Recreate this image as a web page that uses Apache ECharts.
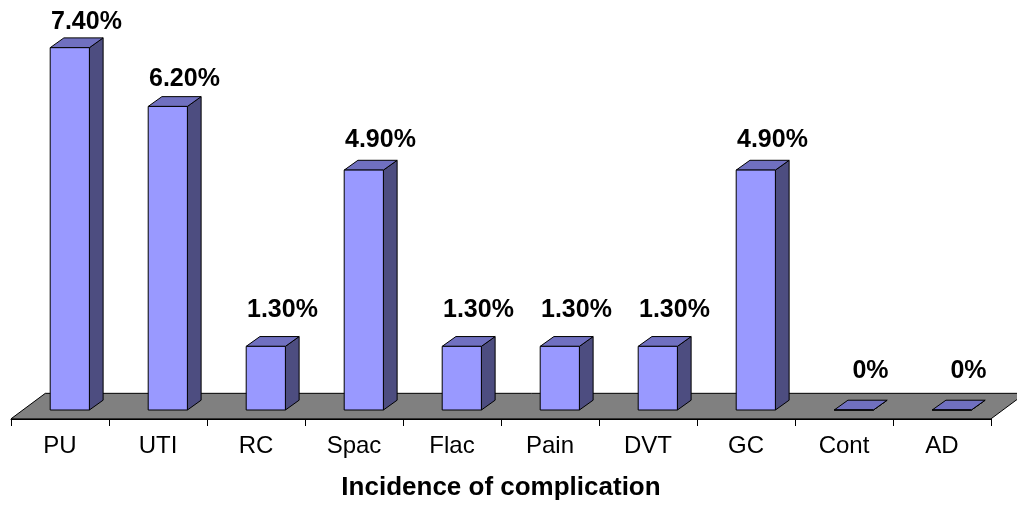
<!DOCTYPE html>
<html>
<head>
<meta charset="utf-8">
<script src="https://cdn.jsdelivr.net/npm/echarts@6/dist/echarts.min.js"></script>
<style>
  html, body { margin: 0; padding: 0; background: #fff; }
  #chart { width: 1017px; height: 506px; }
</style>
</head>
<body>
<div id="chart"></div>
<script>
const categories = ['PU', 'UTI', 'RC', 'Spac', 'Flac', 'Pain', 'DVT', 'GC', 'Cont', 'AD'];
const values = [7.4, 6.2, 1.3, 4.9, 1.3, 1.3, 1.3, 4.9, 0, 0];
const valueLabels = ['7.40%', '6.20%', '1.30%', '4.90%', '1.30%', '1.30%', '1.30%', '4.90%', '0%', '0%'];
const axisTitle = 'Incidence of complication';

const FONT = "'Liberation Sans', Arial, sans-serif";
const chart = echarts.init(document.getElementById('chart'), null, { renderer: 'canvas' });

function renderFloor(params, api) {
  const cs = params.coordSys;
  const y0 = api.coord([0, 0])[1];
  const w = api.size([1, 0])[0];
  const yf = y0 + 0.09 * w;
  const yb = y0 - 0.17 * w;
  const dx = 0.35 * w;
  const l = cs.x, r = cs.x + cs.width;
  return {
    type: 'polygon',
    shape: { points: [[l, yf], [r, yf], [r + dx, yb], [l + dx, yb]] },
    style: { fill: '#808080', stroke: '#000', lineWidth: 1 }
  };
}

function renderBar(params, api) {
  const i = api.value(0);
  const v = api.value(1);
  const base = api.coord([i, 0]);
  const top = api.coord([i, v]);
  const w = api.size([1, 0])[0];
  const c = base[0], y0 = base[1], yt = top[1];
  const xl = c - 0.1 * w, xr = c + 0.3 * w;
  const dx = 0.14 * w, dy = -0.1 * w;
  const ly = yt - 39 + 0.037 * (y0 - yt);
  return {
    type: 'group',
    children: [
      { type: 'polygon', shape: { points: [[xr, yt], [xr + dx, yt + dy], [xr + dx, y0 + dy], [xr, y0]] },
        style: { fill: '#4d4d80', stroke: '#000', lineWidth: 1 } },
      { type: 'polygon', shape: { points: [[xl, yt], [xr, yt], [xr + dx, yt + dy], [xl + dx, yt + dy]] },
        style: { fill: '#7070c0', stroke: '#000', lineWidth: 1 } },
      { type: 'polygon', shape: { points: [[xl, yt], [xr, yt], [xr, y0], [xl, y0]] },
        style: { fill: '#9999ff', stroke: '#000', lineWidth: 1 } },
      { type: 'text', style: { x: c + 0.27 * w, y: ly, text: valueLabels[params.dataIndex],
        fill: '#000', font: 'bold 25px ' + FONT, textAlign: 'center', textVerticalAlign: 'middle' } }
    ]
  };
}

chart.setOption({
  animation: false,
  backgroundColor: '#fff',
  grid: { left: 11, right: 26, top: 18.3, bottom: 96 },
  xAxis: {
    type: 'category',
    data: categories,
    offset: 9,
    z: 5,
    boundaryGap: true,
    axisLine: { show: true, onZero: false, lineStyle: { color: '#000', width: 1 } },
    axisTick: { show: true, inside: false, length: 7, interval: 0, lineStyle: { color: '#000', width: 1 } },
    axisLabel: { interval: 0, margin: 15, color: '#000', fontSize: 24, fontFamily: FONT },
    name: axisTitle,
    nameLocation: 'middle',
    nameGap: 56,
    nameTextStyle: { color: '#000', fontSize: 26, fontWeight: 'bold', fontFamily: FONT }
  },
  yAxis: { type: 'value', min: 0, max: 8, show: false, splitLine: { show: false } },
  series: [
    { type: 'custom', renderItem: renderFloor, data: [[0, 0]], clip: false, z: 1, silent: true },
    { type: 'custom', renderItem: renderBar, data: values.map((v, i) => [i, v]), clip: false, z: 2 }
  ]
});
</script>
</body>
</html>
